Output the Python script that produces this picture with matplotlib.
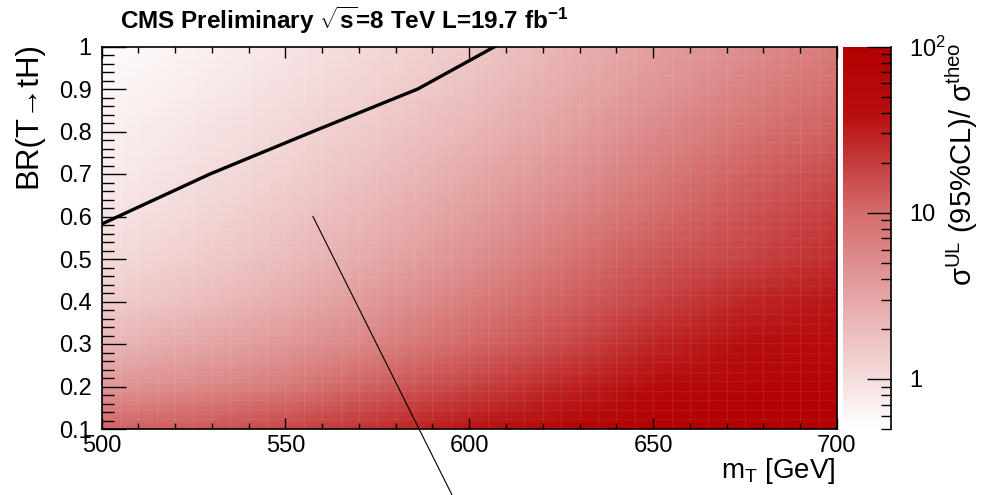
import numpy as np
import matplotlib
matplotlib.use("Agg")
import matplotlib.pyplot as plt
from matplotlib.colors import LinearSegmentedColormap, LogNorm
from matplotlib.ticker import MultipleLocator, FixedLocator, LogLocator, NullFormatter

plt.rcParams['font.family'] = ['Liberation Sans', 'DejaVu Sans']
plt.rcParams['mathtext.fontset'] = 'custom'
plt.rcParams['mathtext.rm'] = 'Liberation Sans'
plt.rcParams['mathtext.it'] = 'Liberation Sans:italic'
plt.rcParams['mathtext.bf'] = 'Liberation Sans:bold'

# Scan grid: vector-like T quark mass and branching fraction to tH
mass_GeV = [500, 525, 550, 575, 600, 625, 650, 675, 700]
br_tH = [0.1, 0.2, 0.3, 0.4, 0.5, 0.6, 0.7, 0.8, 0.9, 1.0]

# Upper limit on cross section divided by theory prediction, one row per BR
ratio_br010 = [11.0, 13.0, 17.0, 24.0, 36.0, 70.0, 100.0, 110.0, 110.0]
ratio_br020 = [4.2, 5.5, 7.5, 12.0, 18.0, 28.0, 50.0, 70.0, 75.0]
ratio_br030 = [2.2, 3.0, 4.2, 6.5, 10.5, 16.0, 28.0, 40.0, 50.0]
ratio_br040 = [1.4, 1.9, 2.7, 4.3, 7.0, 11.5, 18.0, 28.0, 35.0]
ratio_br050 = [1.05, 1.40, 2.0, 3.0, 4.8, 8.2, 13.5, 18.0, 25.0]
ratio_br060 = [0.87, 1.13, 1.60, 2.35, 3.7, 6.0, 10.0, 14.5, 20.0]
ratio_br070 = [0.75, 0.98, 1.30, 1.90, 2.9, 4.4, 7.3, 11.5, 16.0]
ratio_br080 = [0.68, 0.87, 1.13, 1.55, 2.25, 3.4, 5.6, 8.5, 12.0]
ratio_br090 = [0.61, 0.75, 0.98, 1.30, 1.82, 2.75, 4.3, 6.5, 9.5]
ratio_br100 = [0.53, 0.68, 0.87, 1.13, 1.55, 2.35, 3.5, 5.0, 7.5]

# Exclusion boundary (ratio = 1)
limit_mass = [500, 529.5, 557.5, 586, 607]
limit_br = [0.582, 0.70, 0.80, 0.90, 1.0]

# Thin pointer line
pointer_mass = [557.5, 595.3]
pointer_br = [0.60, -0.055]

ratio = np.array([ratio_br010, ratio_br020, ratio_br030, ratio_br040, ratio_br050,
                  ratio_br060, ratio_br070, ratio_br080, ratio_br090, ratio_br100])

cmap = LinearSegmentedColormap.from_list(
    'whitered',
    [(0.0, (1, 1, 1)),
     (0.565, (212 / 255, 108 / 255, 108 / 255)),
     (0.82, (183 / 255, 15 / 255, 15 / 255)),
     (1.0, (178 / 255, 0, 0))])
norm = LogNorm(vmin=0.5, vmax=100)

W, H = 982, 495
fig = plt.figure(figsize=(W / 100, H / 100), dpi=100)
x0, x1, y0, y1 = 101.5, 837, 46.5, 429
ax = fig.add_axes([x0 / W, 1 - y1 / H, (x1 - x0) / W, (y1 - y0) / H])
cax = fig.add_axes([843 / W, 1 - y1 / H, 48 / W, (y1 - y0) / H])

mesh = ax.pcolormesh(mass_GeV, br_tH, ratio, shading='gouraud', cmap=cmap, norm=norm)

# faint cell seams of the binned map
for xv in np.arange(505, 700, 5):
    ax.axvline(xv, color='white', alpha=0.10, lw=0.6, zorder=1.5)
for yv in np.arange(0.1225, 1.0, 0.0225):
    ax.axhline(yv, color='white', alpha=0.08, lw=0.6, zorder=1.5)

ax.plot(limit_mass, limit_br, color='black', lw=2.4, zorder=3)
ax.plot(pointer_mass, pointer_br, color='black', lw=0.8, clip_on=False, zorder=4)

ax.set_xlim(500, 700)
ax.set_ylim(0.1, 1.0)
ax.xaxis.set_major_locator(MultipleLocator(50))
ax.xaxis.set_minor_locator(MultipleLocator(10))
ax.yaxis.set_minor_locator(MultipleLocator(0.02))
ax.set_yticks([0.1, 0.2, 0.3, 0.4, 0.5, 0.6, 0.7, 0.8, 0.9, 1.0])
ax.set_yticklabels(['0.1', '0.2', '0.3', '0.4', '0.5', '0.6', '0.7', '0.8', '0.9', '1'])
ax.tick_params(axis='x', which='both', direction='in', top=True, bottom=True,
               labelsize=17, pad=4)
ax.tick_params(axis='x', which='major', length=8, width=1)
ax.tick_params(axis='x', which='minor', length=4, width=1)
ax.tick_params(axis='y', which='both', direction='in', left=True, right=False,
               labelsize=17, pad=7)
ax.tick_params(axis='y', which='major', length=17, width=1)
ax.tick_params(axis='y', which='minor', length=8.5, width=1)
for s in ax.spines.values():
    s.set_linewidth(1.2)

cbar = fig.colorbar(mesh, cax=cax)
cbar.outline.set_visible(False)
cax.plot([1, 1], [0, 1], transform=cax.transAxes, color='black', lw=1.2, clip_on=False)
cax.yaxis.set_ticks_position('right')
cax.yaxis.set_major_locator(FixedLocator([1, 10, 100]))
cax.yaxis.set_minor_locator(LogLocator(base=10, subs=np.arange(2, 10)))
cax.yaxis.set_minor_formatter(NullFormatter())
cax.set_yticklabels(['1', '10', r'10$^{2}$'])
cax.tick_params(axis='y', which='both', direction='in', labelsize=17, pad=13, width=1)
cax.tick_params(axis='y', which='major', length=17)
cax.tick_params(axis='y', which='minor', length=7)

fig.text(120 / W, 1 - 29 / H,
         r'CMS Preliminary $\sqrt{\mathbf{s}}$=8 TeV L=19.7 fb$^{\mathbf{-1}}$',
         fontsize=17.5, fontweight='bold', ha='left', va='baseline')
fig.text(28 / W, 1 - 42 / H, 'BR(T\u2192tH)', rotation=90, ha='center', va='top', fontsize=22.5)
fig.text(836 / W, 1 - 471 / H, r'm$_{\mathrm{T}}$ [GeV]', ha='right', va='center', fontsize=20)
fig.text(962 / W, 1 - 43 / H, '\u03c3$^{\\mathrm{UL}}$ (95%CL)/ \u03c3$^{\\mathrm{theo}}$',
         rotation=90, ha='center', va='top', fontsize=21)

fig.savefig('out.png', dpi=100)
